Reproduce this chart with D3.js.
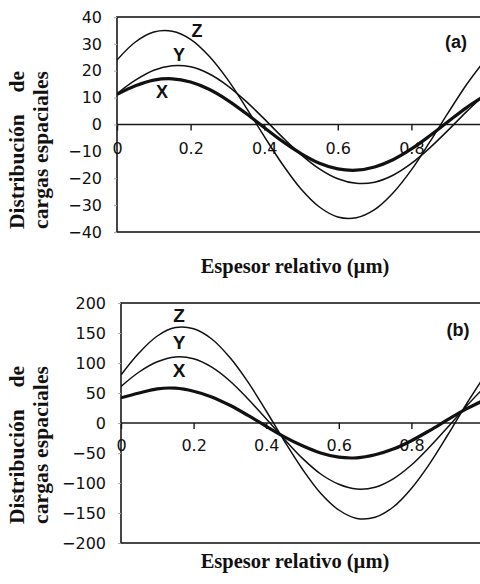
<!DOCTYPE html>
<html><head><meta charset="utf-8">
<script src="https://cdn.jsdelivr.net/npm/d3@7"></script>
<style>body{margin:0;background:#fff}svg{display:block}</style>
</head><body><svg id="c" width="480" height="584"></svg>
<script>
// ---- data ----
const xs = [0,0.05,0.10,0.15,0.20,0.25,0.30,0.35,0.40,0.45,0.50,0.55,0.60,0.65,0.70,0.75,0.80,0.85,0.90,0.95,1.00];
const aZ = [24,30.7,34.4,34.7,31.7,25.5,16.9,6.5,-4.4,-14.9,-24,-30.7,-34.4,-34.7,-31.7,-25.5,-16.9,-6.5,4.4,14.9,24];
const aY = [11.5,16.5,20.2,21.9,21.5,18.9,14.5,8.7,2.1,-4.8,-11.2,-16.5,-20.2,-21.9,-21.5,-18.9,-14.5,-8.7,-2.1,4.8,11.2];
const aX = [11.2,14.4,16.5,17,15.8,13.1,9.1,4.2,-1.1,-6.3,-10.8,-14.4,-16.5,-17,-15.8,-13.1,-9.1,-4.2,1.1,6.3,10.8];
const bZ = [80,117,145,159,157,140,109,68,20,-30,-77,-117,-145,-159,-157,-140,-109,-68,-20,30,77];
const bY = [61,85,102,110,107,93,70,40,7,-27,-59,-85,-102,-110,-107,-93,-70,-40,-7,27,59];
const bX = [42,50,57,58,53,43.5,29.5,12.6,-5.5,-23,-38,-50,-57,-58,-53,-43.5,-29.5,-12.6,5.5,23,38];
const seriesNames = ["Z","Y","X"];
const xTicks = [0,0.2,0.4,0.6,0.8];
const xTickLabels = ["0","0.2","0.4","0.6","0.8"];
const aYTicks = [40,30,20,10,0,-10,-20,-30,-40];
const bYTicks = [200,150,100,50,0,-50,-100,-150,-200];
const yTitle1a = "Distribución", yTitle1b = "de", yTitle2 = "cargas espaciales";
const xTitle = "Espesor relativo (µm)";
const panelTags = ["(a)","(b)"];

// ---- drawing ----
const svg = d3.select("#c");
const serif = "'Liberation Serif','Times New Roman',serif";
const sans = "'Liberation Sans',Arial,sans-serif";
const tickSans = "'DejaVu Sans',sans-serif";

function panel(cfg){
  const g = svg.append("g");
  const x = d3.scaleLinear().domain([0,1]).range([cfg.left,cfg.right]);
  const y = d3.scaleLinear().domain([cfg.yTicks[cfg.yTicks.length-1], cfg.yTicks[0]]).range([cfg.bottom,cfg.top]);
  const id = "clip"+cfg.tag.replace(/[()]/g,"");
  svg.append("clipPath").attr("id",id).append("rect")
    .attr("x",cfg.left).attr("y",cfg.top-5).attr("width",cfg.right-cfg.left).attr("height",cfg.bottom-cfg.top+10);
  // frame
  g.append("rect").attr("x",cfg.left).attr("y",cfg.top).attr("width",cfg.right-cfg.left).attr("height",cfg.bottom-cfg.top)
    .attr("fill","none").attr("stroke","#1a1a1a").attr("stroke-width",1.6);
  // y axis ticks and labels
  const ya = d3.axisLeft(y).tickValues(cfg.yTicks).tickSize(3).tickPadding(cfg.yPad).tickFormat(d3.format("d"));
  const yg = g.append("g").attr("transform",`translate(${cfg.left},0)`).call(ya);
  yg.select(".domain").remove();
  yg.selectAll("line").attr("stroke","#aaa");
  yg.selectAll("text").attr("font-family",tickSans).attr("font-size",cfg.tickFont).attr("fill","#111");
  // zero line with x ticks
  const xa = d3.axisBottom(x).tickValues(xTicks).tickSize(6).tickPadding(cfg.xPad).tickFormat((d,i)=>xTickLabels[i]);
  const xg = g.append("g").attr("transform",`translate(0,${y(0)})`).call(xa);
  xg.select(".domain").attr("stroke","#1a1a1a").attr("stroke-width",1.4).attr("d",`M${cfg.left},0H${cfg.right}`);
  xg.selectAll("line").attr("stroke","#1a1a1a").attr("stroke-width",1.4);
  xg.selectAll("text").attr("font-family",tickSans).attr("font-size",cfg.tickFont).attr("fill","#111");
  // curves
  const line = d3.line().x((d,i)=>x(xs[i])).y(d=>y(d)).curve(d3.curveCatmullRom);
  const widths = [1.5,1.5,3.2];
  cfg.series.forEach((s,k)=>{
    g.append("path").attr("d",line(s)).attr("fill","none").attr("stroke","#111")
      .attr("stroke-width",widths[k]).attr("clip-path",`url(#${id})`);
  });
  // series letters
  seriesNames.forEach((n,k)=>{
    g.append("text").attr("x",cfg.labels[k][0]).attr("y",cfg.labels[k][1]).attr("text-anchor","middle")
      .attr("dominant-baseline","central").attr("font-family",sans).attr("font-weight","bold")
      .attr("font-size",cfg.labelFont).attr("fill","#111").text(n);
  });
  g.append("text").attr("x",cfg.tagPos[0]).attr("y",cfg.tagPos[1]).attr("text-anchor","middle")
    .attr("dominant-baseline","central").attr("font-family",sans).attr("font-weight","bold")
    .attr("font-size",18).attr("fill","#111").text(cfg.tag);
  // axis titles
  const tc = cfg.titleCenter, half = 79;
  const tg = g.append("g").attr("font-family",serif).attr("font-weight","bold").attr("font-size",21.5).attr("fill","#111");
  tg.append("text").attr("transform",`translate(24,${tc+half}) rotate(-90)`).attr("text-anchor","start").text(yTitle1a);
  tg.append("text").attr("transform",`translate(24,${tc-half}) rotate(-90)`).attr("text-anchor","end").text(yTitle1b);
  tg.append("text").attr("transform",`translate(48,${tc}) rotate(-90)`).attr("text-anchor","middle")
    .attr("textLength",2*half).text(yTitle2);
  g.append("text").attr("x",295).attr("y",cfg.xTitleY).attr("text-anchor","middle").attr("font-family",serif)
    .attr("font-weight","bold").attr("font-size",20.5).attr("fill","#111").text(xTitle);
}

panel({tag:panelTags[0], left:117, right:485, top:17, bottom:232, yTicks:aYTicks, series:[aZ,aY,aX],
  tickFont:16, xPad:12, yPad:12, labelFont:18, labels:[[197,31],[179,55],[162,92]], tagPos:[456,42],
  titleCenter:150, xTitleY:273});
panel({tag:panelTags[1], left:121, right:484, top:303, bottom:543, yTicks:bYTicks, series:[bZ,bY,bX],
  tickFont:16, xPad:11, yPad:12, labelFont:19, labels:[[179,315],[179,342],[179,370]], tagPos:[458,330],
  titleCenter:445, xTitleY:568});
</script></body></html>
